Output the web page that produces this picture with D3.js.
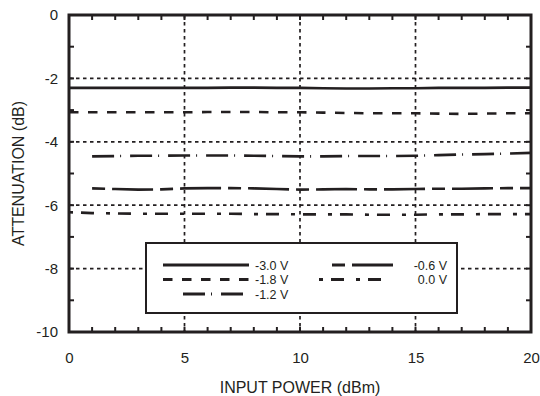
<!DOCTYPE html>
<meta charset="utf-8">
<style>
body { margin: 0; background: #fff; }
text { font-family: "Liberation Sans", Arial, sans-serif; fill: #231f20; }
</style>
<svg width="540" height="396"></svg>
<script src="https://d3js.org/d3.v7.min.js"></script>
<script>

var power = [0, 1, 2, 3, 4, 5, 6, 7, 8, 9, 10, 11, 12, 13, 14, 15, 16, 17, 18, 19, 20];

var att30 = [-2.30, -2.30, -2.30, -2.30, -2.30, -2.30, -2.30, -2.29, -2.29, -2.30, -2.30, -2.31, -2.32, -2.32, -2.31, -2.31, -2.30, -2.30, -2.30, -2.29, -2.29];
var att18 = [-3.07, -3.07, -3.07, -3.07, -3.07, -3.07, -3.06, -3.06, -3.06, -3.07, -3.07, -3.08, -3.09, -3.10, -3.10, -3.10, -3.11, -3.12, -3.11, -3.10, -3.10];
var att12 = [null, -4.46, -4.45, -4.44, -4.44, -4.43, -4.43, -4.43, -4.44, -4.45, -4.46, -4.46, -4.45, -4.45, -4.45, -4.44, -4.42, -4.40, -4.39, -4.37, -4.35];
var att06 = [null, -5.47, -5.49, -5.51, -5.50, -5.47, -5.46, -5.46, -5.47, -5.49, -5.51, -5.50, -5.49, -5.50, -5.50, -5.49, -5.48, -5.48, -5.47, -5.46, -5.46];
var att00 = [-6.22, -6.25, -6.26, -6.27, -6.27, -6.27, -6.27, -6.27, -6.28, -6.28, -6.29, -6.29, -6.29, -6.30, -6.30, -6.30, -6.29, -6.29, -6.28, -6.28, -6.28];

var xTicks = [0, 5, 10, 15, 20];
var yTicks = [0, -2, -4, -6, -8, -10];

var series = [
  {name: "-3.0 V", values: att30, dash: null},
  {name: "-1.8 V", values: att18, dash: "9.5,9.5"},
  {name: "-1.2 V", values: att12, dash: "22,6,1,9"},
  {name: "-0.6 V", values: att06, dash: "13,7,41,7"},
  {name: "0.0 V", values: att00, dash: "4,8,13,12"}
];

var svg = d3.select("svg"),
    pL = 69, pR = 531, pT = 15, pB = 332;

var x = d3.scaleLinear().domain([0, 20]).range([pL, pR]),
    y = d3.scaleLinear().domain([-10, 0]).range([pB, pT]);

// dotted grid
var grid = svg.append("g")
    .attr("stroke", "#231f20")
    .attr("stroke-width", 1.7)
    .attr("stroke-dasharray", "3.5,3.5");
grid.selectAll(".gx").data([5, 10, 15]).enter().append("line")
    .attr("x1", function(d) { return x(d); }).attr("x2", function(d) { return x(d); })
    .attr("y1", pT).attr("y2", pB);
grid.selectAll(".gy").data([-2, -4, -6, -8]).enter().append("line")
    .attr("x1", pL).attr("x2", pR)
    .attr("y1", function(d) { return y(d); }).attr("y2", function(d) { return y(d); });

// series
var line = d3.line()
    .defined(function(d) { return d[1] != null; })
    .x(function(d) { return x(d[0]); })
    .y(function(d) { return y(d[1]); });

series.forEach(function(s) {
  svg.append("path")
      .datum(power.map(function(p, i) { return [p, s.values[i]]; }))
      .attr("fill", "none")
      .attr("stroke", "#231f20")
      .attr("stroke-width", 2.6)
      .attr("stroke-dasharray", s.dash)
      .attr("d", line);
});

// inward minor ticks
var tk = svg.append("g").attr("stroke", "#231f20").attr("stroke-width", 2);
d3.range(1, 20).forEach(function(v) {
  tk.append("line").attr("x1", x(v)).attr("x2", x(v)).attr("y1", pT).attr("y2", pT + 5);
  tk.append("line").attr("x1", x(v)).attr("x2", x(v)).attr("y1", pB).attr("y2", pB - 5);
});
d3.range(-9, 0).forEach(function(v) {
  tk.append("line").attr("y1", y(v)).attr("y2", y(v)).attr("x1", pL).attr("x2", pL + 5);
  tk.append("line").attr("y1", y(v)).attr("y2", y(v)).attr("x1", pR).attr("x2", pR - 5);
});

// frame
svg.append("rect")
    .attr("x", pL).attr("y", pT)
    .attr("width", pR - pL).attr("height", pB - pT)
    .attr("fill", "none")
    .attr("stroke", "#231f20")
    .attr("stroke-width", 3);

// tick labels via d3 axes (lines hidden)
var xAxis = svg.append("g")
    .attr("transform", "translate(0," + pB + ")")
    .call(d3.axisBottom(x).tickValues(xTicks).tickFormat(String).tickSize(0).tickPadding(20));
var yAxis = svg.append("g")
    .attr("transform", "translate(" + pL + ",0)")
    .call(d3.axisLeft(y).tickValues(yTicks).tickFormat(String).tickSize(0).tickPadding(11));
[xAxis, yAxis].forEach(function(a) {
  a.select(".domain").remove();
  a.selectAll("text").style("font-size", "15px").attr("fill", "#231f20")
      .style("font-family", "'Liberation Sans', Arial, sans-serif");
});

svg.append("text")
    .attr("x", 300).attr("y", 393)
    .attr("text-anchor", "middle")
    .style("font-size", "16px")
    .text("INPUT POWER (dBm)");

svg.append("text")
    .attr("transform", "translate(24," + (pT + pB) / 2 + ") rotate(-90)")
    .attr("text-anchor", "middle")
    .style("font-size", "16px")
    .text("ATTENUATION (dB)");

// legend
var lg = svg.append("g");
lg.append("rect")
    .attr("x", 146).attr("y", 243)
    .attr("width", 311).attr("height", 70)
    .attr("fill", "#fff")
    .attr("stroke", "#231f20")
    .attr("stroke-width", 2);

var legendPos = [
  {x1: 163, x2: 249, y: 265, tx: 255, anchor: "start"},
  {x1: 163, x2: 249, y: 279.5, tx: 255, anchor: "start"},
  {x1: 183, x2: 249, y: 294, tx: 255, anchor: "start"},
  {x1: 332, x2: 393, y: 265, tx: 447, anchor: "end"},
  {x1: 319, x2: 393, y: 279.5, tx: 447, anchor: "end"}
];
series.forEach(function(s, i) {
  var p = legendPos[i];
  lg.append("line")
      .attr("x1", p.x1).attr("x2", p.x2)
      .attr("y1", p.y).attr("y2", p.y)
      .attr("stroke", "#231f20")
      .attr("stroke-width", 2.8)
      .attr("stroke-dasharray", s.dash);
  lg.append("text")
      .attr("x", p.tx).attr("y", p.y + 4.5)
      .attr("text-anchor", p.anchor)
      .style("font-size", "12.5px")
      .text(s.name);
});

</script>
